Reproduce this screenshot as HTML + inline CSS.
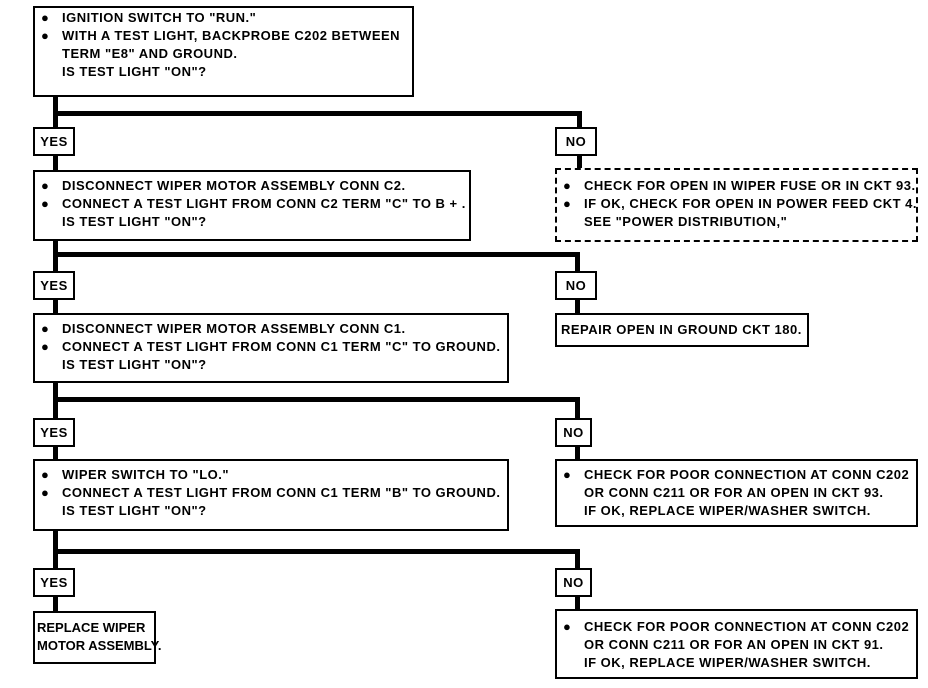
<!DOCTYPE html>
<html><head><meta charset="utf-8"><style>
body{margin:0;width:928px;height:688px;background:#fff;position:relative;overflow:hidden;font-family:"Liberation Sans",sans-serif;font-weight:bold;font-size:13px;color:#000}
.b{position:absolute;border:2px solid #000;box-sizing:border-box;background:#fff}
.d{border:2px dashed #000}
.l{position:absolute;background:#000}
.t{position:absolute;line-height:18px;white-space:nowrap;letter-spacing:0.5px}
.lab{position:absolute;border:2px solid #000;box-sizing:border-box;background:#fff;text-align:center;line-height:25px;font-size:13px;letter-spacing:0.5px}
</style></head><body>
<div class="l" style="left:53px;top:97px;width:5px;height:520px"></div>
<div class="l" style="left:53px;top:111px;width:529px;height:5px"></div>
<div class="l" style="left:577px;top:111px;width:5px;height:60px"></div>
<div class="l" style="left:53px;top:252px;width:527px;height:5px"></div>
<div class="l" style="left:575px;top:252px;width:5px;height:62px"></div>
<div class="l" style="left:53px;top:397px;width:527px;height:5px"></div>
<div class="l" style="left:575px;top:397px;width:5px;height:64px"></div>
<div class="l" style="left:53px;top:549px;width:527px;height:5px"></div>
<div class="l" style="left:575px;top:549px;width:5px;height:62px"></div>

<div class="b" style="left:33px;top:6px;width:381px;height:91px"></div>
<div class="t" style="left:41px;top:9px">●<br>●</div>
<div class="t" style="left:62px;top:9px">IGNITION SWITCH TO "RUN."<br>WITH A TEST LIGHT, BACKPROBE C202 BETWEEN<br>TERM "E8" AND GROUND.<br>IS TEST LIGHT "ON"?</div>

<div class="lab" style="left:33px;top:127px;width:42px;height:29px">YES</div>
<div class="lab" style="left:555px;top:127px;width:42px;height:29px">NO</div>

<div class="b" style="left:33px;top:170px;width:438px;height:71px"></div>
<div class="t" style="left:41px;top:177px">●<br>●</div>
<div class="t" style="left:62px;top:177px">DISCONNECT WIPER MOTOR ASSEMBLY CONN C2.<br>CONNECT A TEST LIGHT FROM CONN C2 TERM "C" TO B + .<br>IS TEST LIGHT "ON"?</div>

<div class="b d" style="left:555px;top:168px;width:363px;height:74px"></div>
<div class="t" style="left:563px;top:177px">●<br>●</div>
<div class="t" style="left:584px;top:177px">CHECK FOR OPEN IN WIPER FUSE OR IN CKT 93.<br>IF OK, CHECK FOR OPEN IN POWER FEED CKT 4.<br>SEE "POWER DISTRIBUTION,"</div>

<div class="lab" style="left:33px;top:271px;width:42px;height:29px">YES</div>
<div class="lab" style="left:555px;top:271px;width:42px;height:29px">NO</div>

<div class="b" style="left:33px;top:313px;width:476px;height:70px"></div>
<div class="t" style="left:41px;top:320px">●<br>●</div>
<div class="t" style="left:62px;top:320px">DISCONNECT WIPER MOTOR ASSEMBLY CONN C1.<br>CONNECT A TEST LIGHT FROM CONN C1 TERM "C" TO GROUND.<br>IS TEST LIGHT "ON"?</div>

<div class="b" style="left:555px;top:313px;width:254px;height:34px"></div>
<div class="t" style="left:561px;top:321px">REPAIR OPEN IN GROUND CKT 180.</div>

<div class="lab" style="left:33px;top:418px;width:42px;height:29px">YES</div>
<div class="lab" style="left:555px;top:418px;width:37px;height:29px">NO</div>

<div class="b" style="left:33px;top:459px;width:476px;height:72px"></div>
<div class="t" style="left:41px;top:466px">●<br>●</div>
<div class="t" style="left:62px;top:466px">WIPER SWITCH TO "LO."<br>CONNECT A TEST LIGHT FROM CONN C1 TERM "B" TO GROUND.<br>IS TEST LIGHT "ON"?</div>

<div class="b" style="left:555px;top:459px;width:363px;height:68px"></div>
<div class="t" style="left:563px;top:466px">●</div>
<div class="t" style="left:584px;top:466px">CHECK FOR POOR CONNECTION AT CONN C202<br>OR CONN C211 OR FOR AN OPEN IN CKT 93.<br>IF OK, REPLACE WIPER/WASHER SWITCH.</div>

<div class="lab" style="left:33px;top:568px;width:42px;height:29px">YES</div>
<div class="lab" style="left:555px;top:568px;width:37px;height:29px">NO</div>

<div class="b" style="left:33px;top:611px;width:123px;height:53px"></div>
<div class="t" style="left:37px;top:619px;letter-spacing:0">REPLACE WIPER<br>MOTOR ASSEMBLY.</div>

<div class="b" style="left:555px;top:609px;width:363px;height:70px"></div>
<div class="t" style="left:563px;top:618px">●</div>
<div class="t" style="left:584px;top:618px">CHECK FOR POOR CONNECTION AT CONN C202<br>OR CONN C211 OR FOR AN OPEN IN CKT 91.<br>IF OK, REPLACE WIPER/WASHER SWITCH.</div>
</body></html>
